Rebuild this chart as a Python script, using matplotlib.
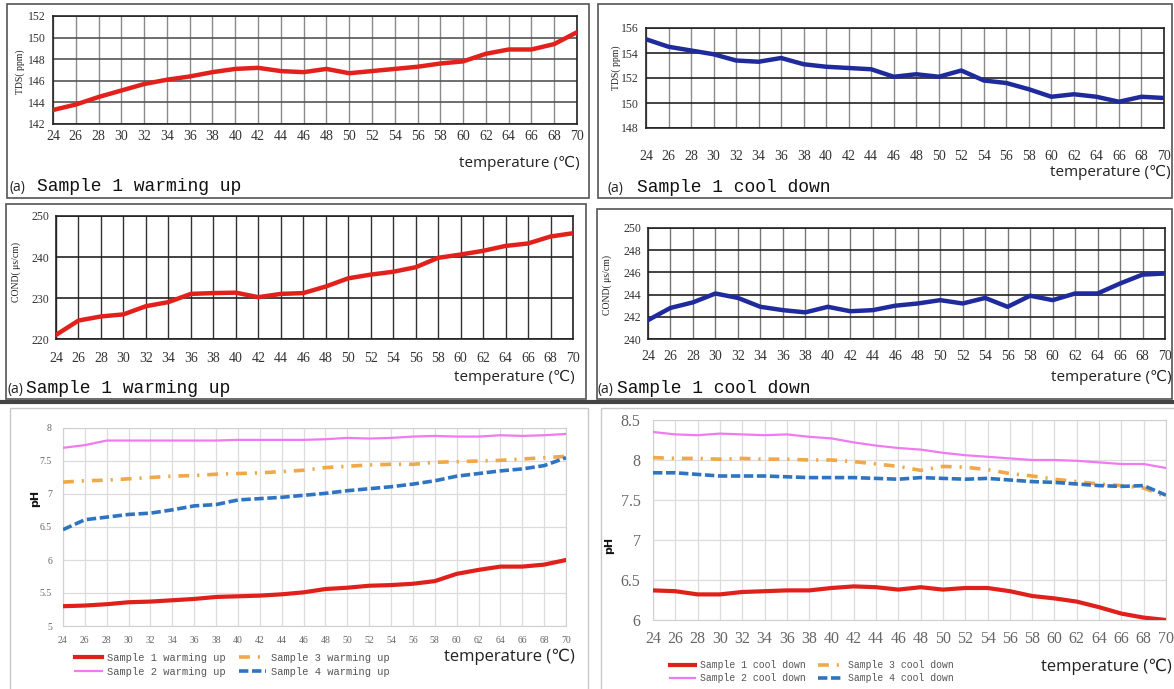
import matplotlib.pyplot as plt
from matplotlib.patches import Rectangle
from matplotlib.lines import Line2D

W, H = 1174, 689

temps = list(range(24, 71, 2))

tds_warm = [143.3, 143.8, 144.5, 145.1, 145.7, 146.1, 146.4, 146.8, 147.1, 147.2, 146.9, 146.8,
            147.1, 146.7, 146.9, 147.1, 147.3, 147.6, 147.8, 148.5, 148.9, 148.9, 149.4, 150.5]
tds_cool = [155.1, 154.5, 154.2, 153.9, 153.4, 153.3, 153.6, 153.1, 152.9, 152.8, 152.7, 152.1,
            152.3, 152.1, 152.6, 151.8, 151.6, 151.1, 150.5, 150.7, 150.5, 150.1, 150.5, 150.4]
cond_warm = [221.0, 224.5, 225.5, 226.0, 228.0, 229.0, 231.0, 231.2, 231.3, 230.2, 231.0, 231.2,
             232.8, 234.8, 235.7, 236.4, 237.5, 239.8, 240.6, 241.5, 242.7, 243.3, 245.0, 245.8]
cond_cool = [241.7, 242.8, 243.3, 244.1, 243.7, 242.9, 242.6, 242.4, 242.9, 242.5, 242.6, 243.0,
             243.2, 243.5, 243.2, 243.7, 242.9, 243.9, 243.5, 244.1, 244.1, 245.0, 245.8, 245.9]

ph_warm_1 = [5.30, 5.31, 5.33, 5.36, 5.37, 5.39, 5.41, 5.44, 5.45, 5.46, 5.48, 5.51,
             5.56, 5.58, 5.61, 5.62, 5.64, 5.68, 5.79, 5.85, 5.90, 5.90, 5.93, 6.00]
ph_warm_2 = [7.70, 7.74, 7.81, 7.81, 7.81, 7.81, 7.81, 7.81, 7.82, 7.82, 7.82, 7.82,
             7.83, 7.85, 7.84, 7.85, 7.87, 7.88, 7.87, 7.87, 7.89, 7.88, 7.89, 7.91]
ph_warm_3 = [7.18, 7.20, 7.21, 7.23, 7.25, 7.27, 7.28, 7.30, 7.31, 7.32, 7.34, 7.36,
             7.40, 7.42, 7.44, 7.45, 7.45, 7.48, 7.49, 7.50, 7.51, 7.53, 7.55, 7.57]
ph_warm_4 = [6.46, 6.61, 6.65, 6.69, 6.71, 6.76, 6.82, 6.84, 6.91, 6.93, 6.95, 6.98,
             7.01, 7.05, 7.08, 7.11, 7.15, 7.20, 7.27, 7.31, 7.35, 7.38, 7.43, 7.55]

ph_cool_1 = [6.37, 6.36, 6.32, 6.32, 6.35, 6.36, 6.37, 6.37, 6.40, 6.42, 6.41, 6.38,
             6.41, 6.38, 6.40, 6.40, 6.36, 6.30, 6.27, 6.23, 6.16, 6.08, 6.03, 6.00]
ph_cool_2 = [8.35, 8.32, 8.31, 8.33, 8.32, 8.31, 8.32, 8.29, 8.27, 8.22, 8.18, 8.15,
             8.13, 8.09, 8.06, 8.04, 8.02, 8.00, 8.00, 7.99, 7.97, 7.95, 7.95, 7.90]
ph_cool_3 = [8.03, 8.02, 8.02, 8.01, 8.02, 8.01, 8.01, 8.00, 8.00, 7.98, 7.95, 7.92,
             7.87, 7.92, 7.91, 7.88, 7.83, 7.80, 7.76, 7.73, 7.70, 7.68, 7.65, 7.54]
ph_cool_4 = [7.84, 7.84, 7.82, 7.80, 7.80, 7.80, 7.79, 7.78, 7.78, 7.78, 7.77, 7.76,
             7.78, 7.77, 7.76, 7.77, 7.75, 7.73, 7.72, 7.70, 7.68, 7.67, 7.68, 7.56]

warm_names = ['Sample 1 warming up', 'Sample 2 warming up', 'Sample 3 warming up', 'Sample 4 warming up']
cool_names = ['Sample 1 cool down', 'Sample 2 cool down', 'Sample 3 cool down', 'Sample 4 cool down']

RED = '#e3211c'
BLUE_DARK = '#1f2b9c'
PH_COLORS = ['#e0201b', '#f07af0', '#f0a848', '#2f74c0']
PH_STYLES = ['-', '-', (0, (3, 2.2, 0.6, 2.2)), (0, (2.6, 1.0))]
PH_WIDTHS = [3.0, 1.6, 2.6, 2.6]

SANS = ['Open Sans', 'DejaVu Sans']
SERIF = 'Liberation Serif'
MONO = 'Liberation Mono'


def rect(x0, y0, x1, y1):
    # pixel box with top-left origin -> figure fraction
    return [x0 / W, 1 - y1 / H, (x1 - x0) / W, (y1 - y0) / H]


def fx(x):
    return x / W


def fy(y):
    return 1 - y / H


def frame(fig, x0, y0, x1, y1, color='#555555', lw=1.2):
    fig.add_artist(Rectangle((fx(x0), fy(y1)), (x1 - x0) / W, (y1 - y0) / H,
                             transform=fig.transFigure, fill=False, ec=color, lw=lw))


def sensor_panel(fig, box, y, color, ylim, yticks, ylabel, hgrid, vgrid, xpad, lab_xy):
    ax = fig.add_axes(rect(*box))
    ax.plot(temps, y, color=color, lw=3.2, solid_capstyle='round', solid_joinstyle='round', zorder=3)
    ax.set_xlim(24, 70)
    ax.set_ylim(*ylim)
    ax.set_xticks(temps)
    ax.set_yticks(yticks)
    ax.grid(axis='x', color=vgrid, lw=1.0)
    ax.grid(axis='y', color=hgrid, lw=1.2)
    ax.set_axisbelow(True)
    for s in ax.spines.values():
        s.set_color('#222222')
        s.set_linewidth(1.2)
    ax.tick_params(length=0)
    ax.tick_params(axis='x', pad=xpad, labelsize=10)
    ax.tick_params(axis='y', pad=5, labelsize=8.5)
    for t in ax.get_xticklabels() + ax.get_yticklabels():
        t.set_fontfamily(SERIF)
        t.set_color('#333333')
    fig.text(fx(lab_xy[0]), fy(lab_xy[1]), ylabel, rotation=90, ha='center', va='center',
             fontsize=7, family=SERIF, color='#222222')
    return ax


def caption(fig, x, y, gap, label):
    fig.text(fx(x), fy(y), '(a)', fontsize=10, family=SANS, va='baseline', color='#222222')
    fig.text(fx(x + gap), fy(y), label, fontsize=13, family=MONO, va='baseline', color='#111111')


def temp_label(fig, x, y, size=11):
    fig.text(fx(x), fy(y), 'temperature (℃)', fontsize=size, family=SANS,
             ha='right', va='center', color='#222222')


def ph_panel(fig, box, series, names, ylim, yticks, ticksize, ticklabels, xpad, ypad, lab_xy,
             legend_xy, legend_size):
    ax = fig.add_axes(rect(*box))
    for vals, c, ls, lw in zip(series, PH_COLORS, PH_STYLES, PH_WIDTHS):
        ax.plot(temps, vals, color=c, ls=ls, lw=lw, zorder=3)
    ax.set_xlim(24, 70)
    ax.set_ylim(*ylim)
    ax.set_xticks(temps)
    ax.set_yticks(yticks)
    ax.set_yticklabels(ticklabels)
    ax.grid(color='#dcdcdc', lw=0.9)
    ax.set_axisbelow(True)
    for s in ax.spines.values():
        s.set_color('#d0d0d0')
    ax.tick_params(length=0, labelsize=ticksize, labelcolor='#666666')
    ax.tick_params(axis='x', pad=xpad)
    ax.tick_params(axis='y', pad=ypad)
    for t in ax.get_xticklabels() + ax.get_yticklabels():
        t.set_fontfamily(SERIF)
    fig.text(fx(lab_xy[0]), fy(lab_xy[1]), 'pH', rotation=90, ha='center', va='center',
             fontsize=8, fontweight='bold', family='DejaVu Sans', color='#111111')
    handles = [Line2D([], [], color=c, ls=ls, lw=lw) for c, ls, lw in zip(PH_COLORS, PH_STYLES, PH_WIDTHS)]
    leg = ax.legend(handles, names, ncol=2, loc='upper left',
                    bbox_to_anchor=(fx(legend_xy[0]), fy(legend_xy[1])),
                    bbox_transform=fig.transFigure, frameon=False,
                    prop={'family': MONO, 'size': legend_size},
                    handlelength=2.6, handletextpad=0.5, columnspacing=1.2,
                    labelspacing=0.35, borderpad=0, borderaxespad=0)
    for t in leg.get_texts():
        t.set_color('#555555')
    return ax


def main():
    fig = plt.figure(figsize=(W / 100, H / 100), dpi=100)

    # panel frames
    frame(fig, 7, 4, 589, 198)
    frame(fig, 598, 4, 1172, 198)
    frame(fig, 6, 204, 586, 399)
    frame(fig, 597, 209, 1172, 399)
    fig.add_artist(Line2D([0, 1], [fy(401.5), fy(401.5)], transform=fig.transFigure,
                          color='#444444', lw=3))
    frame(fig, 10, 408, 588, 700, color='#c8c8c8', lw=1.0)
    frame(fig, 601, 408, 1180, 700, color='#c8c8c8', lw=1.0)

    # TDS
    sensor_panel(fig, (53, 16, 577, 124), tds_warm, RED, (142, 152), range(142, 153, 2),
                 'TDS( ppm)', '#555555', '#8a8a8a', 4, (20, 72))
    caption(fig, 10, 191, 27, 'Sample 1 warming up')
    temp_label(fig, 580, 163)

    sensor_panel(fig, (646, 28, 1164, 128), tds_cool, BLUE_DARK, (148, 156), range(148, 157, 2),
                 'TDS( ppm)', '#222222', '#8a8a8a', 16, (616, 68))
    caption(fig, 608, 192, 29, 'Sample 1 cool down')
    temp_label(fig, 1171, 172)

    # COND
    sensor_panel(fig, (56, 216, 573, 339), cond_warm, RED, (220, 250), range(220, 251, 10),
                 'COND( μs/cm)', '#222222', '#333333', 9, (16, 272))
    caption(fig, 8, 393, 18, 'Sample 1 warming up')
    temp_label(fig, 575, 377)

    sensor_panel(fig, (648, 228, 1165, 339), cond_cool, BLUE_DARK, (240, 250), range(240, 251, 2),
                 'COND( μs/cm)', '#222222', '#777777', 8, (607, 285))
    caption(fig, 598, 393, 19, 'Sample 1 cool down')
    temp_label(fig, 1172, 377)

    # pH
    ph_panel(fig, (63, 428, 566, 626), [ph_warm_1, ph_warm_2, ph_warm_3, ph_warm_4], warm_names,
             (5, 8), [5, 5.5, 6, 6.5, 7, 7.5, 8], 7, ['5', '5.5', '6', '6.5', '7', '7.5', '8'],
             7, 8, (35, 498), (75, 653), 7.5)
    temp_label(fig, 575, 657, size=12)

    ph_panel(fig, (653, 420, 1166, 620), [ph_cool_1, ph_cool_2, ph_cool_3, ph_cool_4], cool_names,
             (6, 8.5), [6, 6.5, 7, 7.5, 8, 8.5], 11.5, ['6', '6.5', '7', '7.5', '8', '8.5'],
             8, 9, (609, 545), (670, 660), 7)
    temp_label(fig, 1172, 667, size=12)

    fig.savefig('out.png', dpi=100)


if __name__ == '__main__':
    main()
